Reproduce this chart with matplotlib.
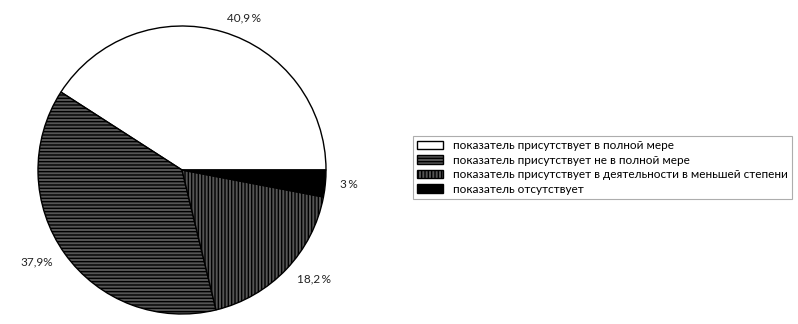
import matplotlib.pyplot as plt

plt.rcParams['font.family'] = ['Lato', 'DejaVu Sans']
plt.rcParams['hatch.linewidth'] = 1.0

shares = [40.9, 37.9, 18.2, 3.0]
pct_labels = ['40,9\u2009%', '37,9%', '18,2\u2009%', '3\u2009%']
legend_labels = [
    'показатель присутствует в полной мере',
    'показатель присутствует не в полной мере',
    'показатель присутствует в деятельности в меньшей степени',
    'показатель отсутствует',
]
face_colors = ['white', '#555555', '#555555', 'black']
hatches = [None, '-----', '|||||', None]


def main():
    fig = plt.figure(figsize=(7.98, 3.24), dpi=100)
    ax = fig.add_axes([0, 0, 1, 1])

    cx, cy = 182, 154
    wedges, texts = ax.pie(
        shares, labels=pct_labels, startangle=0, counterclock=True,
        colors=face_colors, center=(cx, cy), radius=144,
        labeldistance=1.1,
        wedgeprops=dict(edgecolor='black', linewidth=1.0),
        textprops=dict(fontsize=8.5, color='#222222'),
    )
    for w, h in zip(wedges, hatches):
        if h:
            w.set_hatch(h)
    # pie aligns labels against x=0, not the centre, so redo it
    for t in texts:
        t.set_ha('left' if t.get_position()[0] > cx else 'right')

    ax.set_xlim(0, 798)
    ax.set_ylim(0, 324)
    ax.set_aspect('equal')
    ax.axis('off')

    leg = ax.legend(wedges, legend_labels, loc='upper left',
                    bbox_to_anchor=(413 / 798, 1 - 136 / 324),
                    borderaxespad=0,
                    fontsize=8.5, fancybox=False, frameon=True,
                    handlelength=2.2, handleheight=0.7,
                    borderpad=0.35, labelspacing=0.3, handletextpad=0.8)
    leg.get_frame().set_edgecolor('#999999')
    leg.get_frame().set_linewidth(0.8)

    fig.savefig('out.png', dpi=100)


if __name__ == '__main__':
    main()
